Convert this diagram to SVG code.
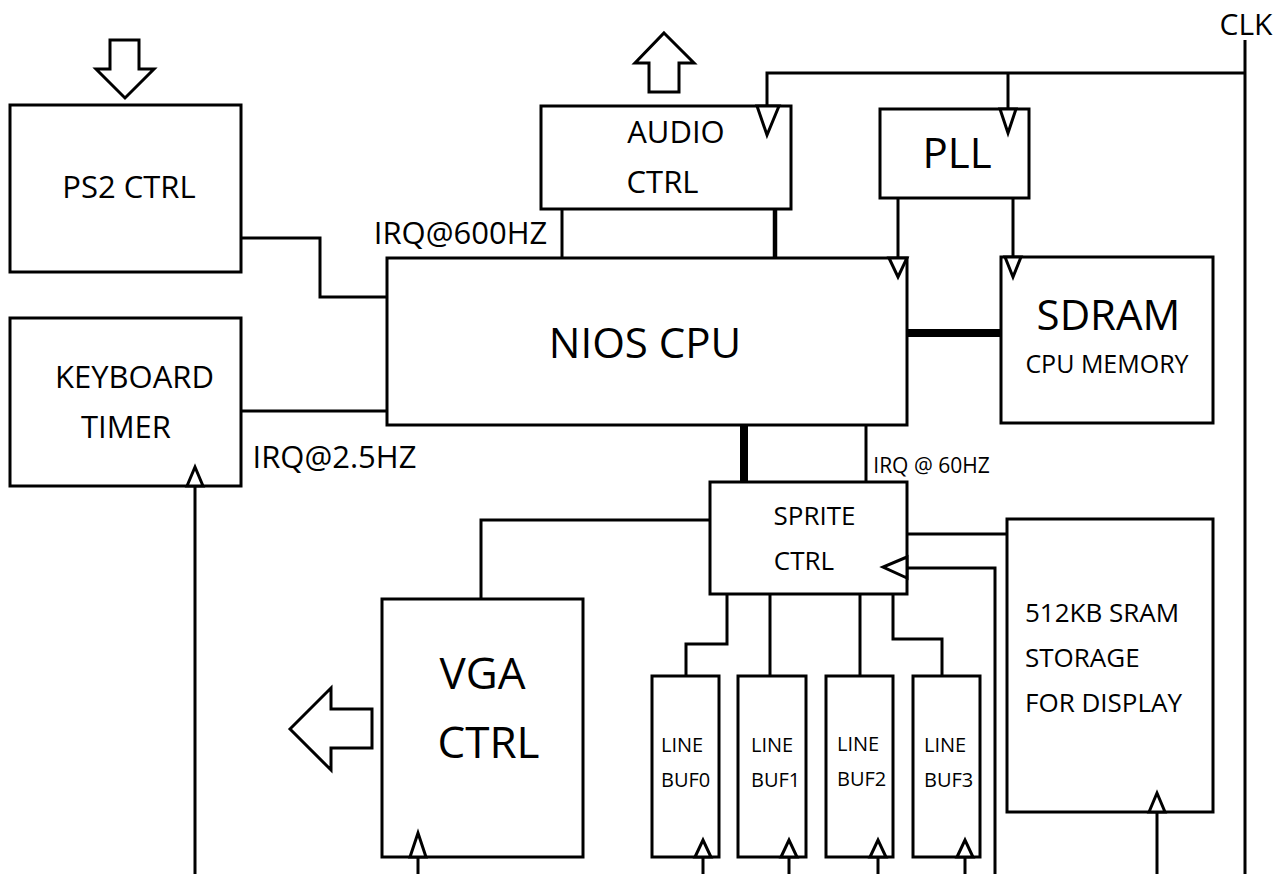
<svg xmlns="http://www.w3.org/2000/svg" width="1285" height="874" viewBox="0 0 1285 874">
<style>
.box{fill:#fff;stroke:#000;stroke-width:3}
.ln{fill:none;stroke:#000;stroke-width:3}
.thk{fill:none;stroke:#000;stroke-width:8}
.clk{fill:#fff;stroke:#000;stroke-width:3;stroke-linejoin:miter}
.blk{fill:#fff;stroke:#000;stroke-width:3}
text{font-family:"Open Sans","Noto Sans","DejaVu Sans",sans-serif;fill:#000}
.c{text-anchor:middle}
.s31{font-size:31px}
.s42{font-size:42px}
.s26{font-size:26px}
.s21{font-size:21px}
.s20{font-size:20px}
</style>
<rect x="0" y="0" width="1285" height="874" fill="#fff"/>
<g id="connectors">
<path class="ln" d="M1245 40V874"/>
<path class="ln" d="M1245 73H767V106"/>
<path class="ln" d="M1008 73V109"/>
<path class="ln" d="M898 198V258"/>
<path class="ln" d="M1013 198V257"/>
<path class="ln" d="M241 238H320V297H387"/>
<path class="ln" d="M241 411H387"/>
<path class="ln" d="M562 209V258"/>
<path class="ln" d="M775 209V258" style="stroke-width:4.5"/>
<path class="thk" d="M907 333H1001"/>
<path class="thk" d="M744 425V482"/>
<path class="ln" d="M866 425V482"/>
<path class="ln" d="M710 520H481V599"/>
<path class="ln" d="M907 534H1007"/>
<path class="ln" d="M995 874V568H907"/>
<path class="ln" d="M727 594V644H686V676"/>
<path class="ln" d="M770 594V676"/>
<path class="ln" d="M860 594V676"/>
<path class="ln" d="M893 594V639H942V676"/>
<path class="ln" d="M195 874V486"/>
<path class="ln" d="M418 874V857"/>
<path class="ln" d="M703 874V857"/>
<path class="ln" d="M789 874V857"/>
<path class="ln" d="M878 874V857"/>
<path class="ln" d="M965 874V857"/>
<path class="ln" d="M1157 874V812"/>
</g>
<g id="ps2">
<rect class="box" x="10" y="105" width="231" height="167"/>
<text class="c s31" x="129" y="198">PS2 CTRL</text>
<polygon class="blk" points="110,40 139,40 139,69 154,69 125,98 96,69 110,69"/>
</g>
<g id="keyboard">
<rect class="box" x="10" y="318" width="231" height="168"/>
<text class="c s31" x="134.5" y="388">KEYBOARD</text>
<text class="c s31" x="126" y="438">TIMER</text>
<polygon class="clk" points="187,486 195,467 203,486"/>
</g>
<text id="irq25" class="c s31" x="334.5" y="468">IRQ@2.5HZ</text>
<text id="irq600" class="c s31" x="460.5" y="244">IRQ@600HZ</text>
<g id="audio">
<rect class="box" x="541" y="106" width="250" height="103"/>
<text class="c s31" x="676" y="143">AUDIO</text>
<text class="c s31" x="662.5" y="193">CTRL</text>
<polygon class="clk" points="757,106 767,135 779,106"/>
<polygon class="blk" points="664,33 694,63 679,63 679,92 649,92 649,63 635,63"/>
</g>
<g id="pll">
<rect class="box" x="880" y="109" width="149" height="89"/>
<text class="c s42" x="957" y="168">PLL</text>
<polygon class="clk" points="1000,109 1008,133 1016,109"/>
</g>
<g id="cpu">
<rect class="box" x="387" y="258" width="520" height="167"/>
<text class="c s42" x="645" y="358">NIOS CPU</text>
<polygon class="clk" points="889,258 898,277 907,258"/>
</g>
<g id="sdram">
<rect class="box" x="1001" y="257" width="212" height="166"/>
<text class="c s42" x="1108.5" y="330">SDRAM</text>
<text class="c" x="1107" y="373" style="font-size:25px">CPU MEMORY</text>
<polygon class="clk" points="1005,257 1013,277 1021,257"/>
</g>
<text id="clk" class="c" x="1246" y="35" style="font-size:30px">CLK</text>
<text id="irq60" class="c s21" x="931.5" y="473">IRQ @ 60HZ</text>
<g id="sprite">
<rect class="box" x="710" y="482" width="197" height="112"/>
<text class="c s26" x="814.5" y="525">SPRITE</text>
<text class="c s26" x="804" y="570">CTRL</text>
<polygon class="clk" points="907,557 883,567 907,578"/>
</g>
<g id="vga">
<rect class="box" x="382" y="599" width="201" height="258"/>
<text class="c" x="482.5" y="689" style="font-size:44px">VGA</text>
<text class="c" x="488.5" y="758" style="font-size:44px">CTRL</text>
<polygon class="clk" points="410,857 418,833 426,857"/>
<polygon class="blk" points="290,729 331,688 331,709 372,709 372,748 331,748 331,770"/>
</g>
<g id="sram">
<rect class="box" x="1007" y="519" width="206" height="293"/>
<text class="s26" x="1025" y="622">512KB SRAM</text>
<text class="s26" x="1025" y="667">STORAGE</text>
<text class="s26" x="1025" y="712">FOR DISPLAY</text>
<polygon class="clk" points="1149,812 1157,793 1165,812"/>
</g>
<g id="buf0">
<rect class="box" x="652" y="676" width="67" height="181"/>
<text class="s20" x="661" y="752">LINE</text>
<text class="s20" x="661" y="787">BUF0</text>
<polygon class="clk" points="695,857 703,840 711,857"/>
</g>
<g id="buf1">
<rect class="box" x="738" y="676" width="68" height="181"/>
<text class="s20" x="751" y="752">LINE</text>
<text class="s20" x="751" y="787">BUF1</text>
<polygon class="clk" points="781,857 789,840 797,857"/>
</g>
<g id="buf2">
<rect class="box" x="826" y="676" width="67" height="181"/>
<text class="s20" x="837" y="751">LINE</text>
<text class="s20" x="837" y="786">BUF2</text>
<polygon class="clk" points="870,857 878,840 886,857"/>
</g>
<g id="buf3">
<rect class="box" x="913" y="676" width="67" height="181"/>
<text class="s20" x="924" y="752">LINE</text>
<text class="s20" x="924" y="787">BUF3</text>
<polygon class="clk" points="957,857 965,840 973,857"/>
</g>
</svg>
